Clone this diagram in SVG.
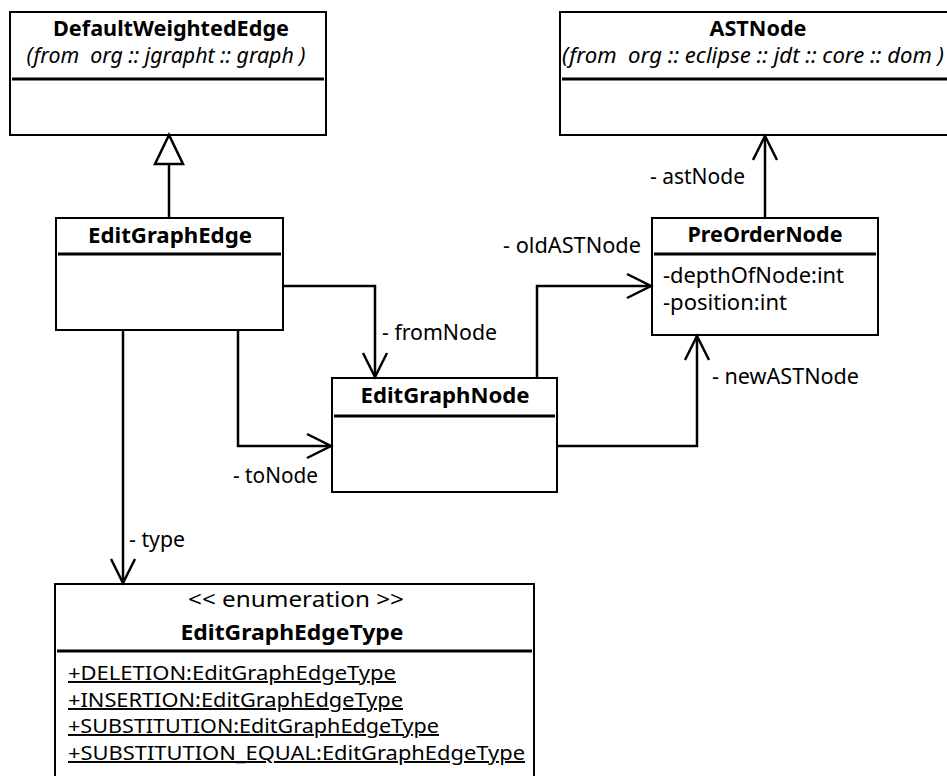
<svg xmlns="http://www.w3.org/2000/svg" width="947" height="776" viewBox="0 0 947 776">
<style>
.box{fill:#fff;stroke:#000;stroke-width:2}
.div{stroke:#000;stroke-width:3}
.t{font-family:"Noto Sans","Open Sans","DejaVu Sans",sans-serif;font-size:21.5px;fill:#000}
.b{font-weight:bold}
.i{font-style:italic}
.c{text-anchor:middle}
.u{text-decoration:underline;font-size:19.5px}
.conn{fill:none;stroke:#000;stroke-width:2.5}
</style>
<defs>
<marker id="open" markerUnits="userSpaceOnUse" markerWidth="30" markerHeight="30" viewBox="-26 -15 30 30" refX="0" refY="0" orient="auto">
<path d="M -24 -12 L 0 0 L -24 12" fill="none" stroke="#000" stroke-width="2.5"/>
</marker>
</defs>
<g id="DefaultWeightedEdge">
<rect class="box" x="10" y="12" width="316" height="123"/>
<line class="div" x1="12" y1="79" x2="324" y2="79"/>
<text class="t b c" x="171" y="36" textLength="236" lengthAdjust="spacingAndGlyphs">DefaultWeightedEdge</text>
<text class="t i c" x="166" y="63" textLength="279" lengthAdjust="spacingAndGlyphs">(from&#160; org :: jgrapht :: graph )</text>
</g>
<g id="ASTNode">
<rect class="box" x="560" y="12" width="400" height="123"/>
<line class="div" x1="562" y1="79" x2="958" y2="79"/>
<text class="t b c" x="758" y="36" textLength="97" lengthAdjust="spacingAndGlyphs">ASTNode</text>
<text class="t i" x="562" y="63" textLength="382" lengthAdjust="spacingAndGlyphs">(from&#160; org :: eclipse :: jdt :: core :: dom )</text>
</g>
<g id="EditGraphEdge">
<rect class="box" x="56" y="218" width="227" height="112"/>
<line class="div" x1="58" y1="254" x2="281" y2="254"/>
<text class="t b c" x="170" y="243" textLength="164" lengthAdjust="spacingAndGlyphs">EditGraphEdge</text>
</g>
<g id="EditGraphNode">
<rect class="box" x="332" y="378" width="225" height="114"/>
<line class="div" x1="334" y1="416" x2="555" y2="416"/>
<text class="t b c" x="445" y="403" textLength="169" lengthAdjust="spacingAndGlyphs">EditGraphNode</text>
</g>
<g id="PreOrderNode">
<rect class="box" x="652" y="218" width="226" height="117"/>
<line class="div" x1="654" y1="254" x2="876" y2="254"/>
<text class="t b c" x="765" y="242" textLength="155" lengthAdjust="spacingAndGlyphs">PreOrderNode</text>
<text class="t" x="663" y="283" textLength="181" lengthAdjust="spacingAndGlyphs">-depthOfNode:int</text>
<text class="t" x="663" y="310" textLength="124" lengthAdjust="spacingAndGlyphs">-position:int</text>
</g>
<g id="EditGraphEdgeType">
<rect class="box" x="55" y="584" width="479" height="200"/>
<line class="div" x1="57" y1="651" x2="532" y2="651"/>
<text class="t c" x="296" y="607" textLength="216" lengthAdjust="spacingAndGlyphs">&lt;&lt; enumeration &gt;&gt;</text>
<text class="t b c" x="292" y="640" textLength="223" lengthAdjust="spacingAndGlyphs">EditGraphEdgeType</text>
<text class="t u" x="68" y="680" textLength="328" lengthAdjust="spacingAndGlyphs">+DELETION:EditGraphEdgeType</text>
<text class="t u" x="68" y="707" textLength="335" lengthAdjust="spacingAndGlyphs">+INSERTION:EditGraphEdgeType</text>
<text class="t u" x="68" y="733" textLength="371" lengthAdjust="spacingAndGlyphs">+SUBSTITUTION:EditGraphEdgeType</text>
<text class="t u" x="68" y="760" textLength="457" lengthAdjust="spacingAndGlyphs">+SUBSTITUTION_EQUAL:EditGraphEdgeType</text>
</g>
<g id="connectors">
<line class="conn" x1="169" y1="218" x2="169" y2="164"/>
<polygon points="169,135 155,164 183,164" fill="#fff" stroke="#000" stroke-width="2.5"/>
<polyline class="conn" points="283,286 375,286 375,377" marker-end="url(#open)"/>
<polyline class="conn" points="238,330 238,446 331,446" marker-end="url(#open)"/>
<line class="conn" x1="123" y1="330" x2="123" y2="583" marker-end="url(#open)"/>
<polyline class="conn" points="537,378 537,286 651,286" marker-end="url(#open)"/>
<polyline class="conn" points="557,446 697,446 697,336" marker-end="url(#open)"/>
<line class="conn" x1="765" y1="218" x2="765" y2="136" marker-end="url(#open)"/>
<text class="t" x="650" y="184" textLength="95" lengthAdjust="spacingAndGlyphs">- astNode</text>
<text class="t" x="382" y="340" textLength="115" lengthAdjust="spacingAndGlyphs">- fromNode</text>
<text class="t" x="503" y="253" textLength="138" lengthAdjust="spacingAndGlyphs">- oldASTNode</text>
<text class="t" x="712" y="384" textLength="147" lengthAdjust="spacingAndGlyphs">- newASTNode</text>
<text class="t" x="233" y="483" textLength="85" lengthAdjust="spacingAndGlyphs">- toNode</text>
<text class="t" x="129" y="547" textLength="56" lengthAdjust="spacingAndGlyphs">- type</text>
</g>
</svg>
